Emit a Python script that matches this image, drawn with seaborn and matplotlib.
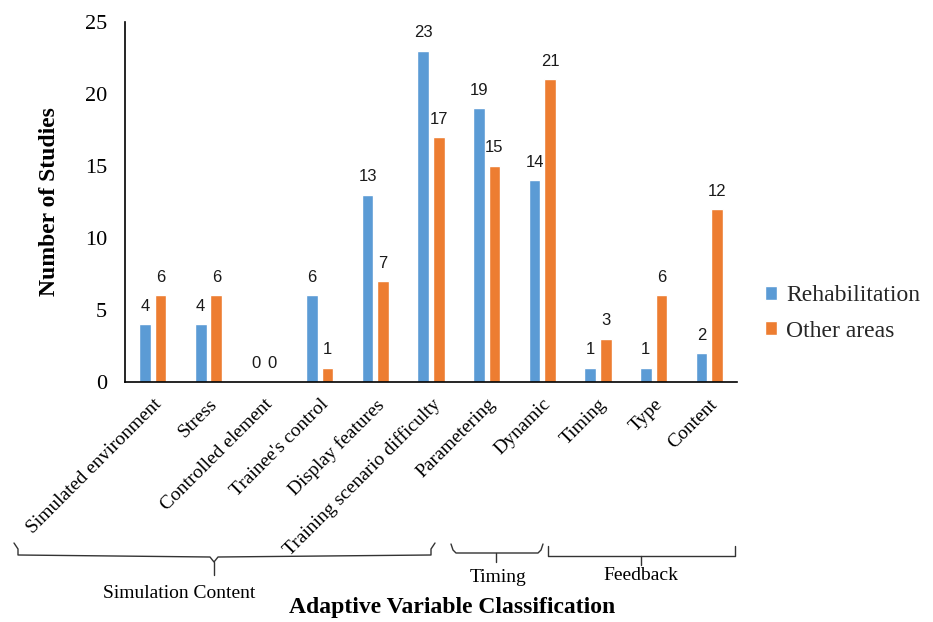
import matplotlib
matplotlib.use("Agg")
import matplotlib.pyplot as plt
from matplotlib.lines import Line2D
import seaborn as sns
import pandas as pd

categories = ["Simulated environment", "Stress", "Controlled element",
              "Trainee's control", "Display features",
              "Training scenario difficulty", "Parametering", "Dynamic",
              "Timing", "Type", "Content"]
rehabilitation = [4, 4, 0, 6, 13, 23, 19, 14, 1, 1, 2]
other_areas = [6, 6, 0, 1, 7, 17, 15, 21, 3, 6, 12]
series_names = ["Rehabilitation", "Other areas"]
y_ticks = [0, 5, 10, 15, 20, 25]

df = pd.DataFrame({
    "variable": categories * 2,
    "studies": rehabilitation + other_areas,
    "area": [series_names[0]] * len(categories) + [series_names[1]] * len(categories),
})

sns.set_theme(style="white")
plt.rcParams["font.family"] = ["Liberation Serif", "DejaVu Serif"]

fig = plt.figure(figsize=(9.33, 6.22), dpi=100)
ax = fig.add_axes([0.134, 0.386, 0.656, 0.579])

sns.barplot(data=df, x="variable", y="studies", hue="area",
            palette=["#5B9BD5", "#ED7D31"], saturation=1, width=0.56, gap=0.25,
            order=categories, hue_order=series_names, ax=ax, legend=True)

for cont in ax.containers:
    ax.bar_label(cont, fmt="%d", padding=7.5, fontsize=12,
                 family="Liberation Sans", color="#1a1a1a")

ax.set_xlim(-0.5, len(categories) - 0.5)
ax.set_ylim(0, 25)
ax.set_yticks(y_ticks)
ax.set_yticklabels([str(t) for t in y_ticks], fontsize=16)
ax.set_xticks(range(len(categories)))
ax.set_xticklabels(categories, rotation=45, ha="right",
                   rotation_mode="anchor", fontsize=14)
ax.tick_params(axis="both", length=0, colors="black")
ax.tick_params(axis="x", pad=10)
ax.tick_params(axis="y", pad=13)

for side in ["top", "right"]:
    ax.spines[side].set_visible(False)
for side in ["left", "bottom"]:
    ax.spines[side].set_color("black")
    ax.spines[side].set_linewidth(1.2)

ax.set_xlabel("")
ax.set_ylabel("Number of Studies", fontsize=17, fontweight="bold",
              labelpad=18, color="black")

handles, labels = ax.get_legend_handles_labels()
ax.legend(handles, labels, loc="center left", bbox_to_anchor=(0.797, 0.496),
          bbox_transform=fig.transFigure, frameon=False, fontsize=17,
          handlelength=0.5, handleheight=0.5, handletextpad=0.4,
          labelspacing=0.6)

# group brackets under the tick labels (figure pixel coordinates)
W, H = 933, 622

def px_line(xs, ys):
    fig.add_artist(Line2D([x / W for x in xs], [1 - y / H for y in ys],
                          color="#333333", lw=1.0, transform=fig.transFigure))

# Simulation Content brace
px_line([14, 18, 18, 210, 214, 218, 431, 431, 435],
        [543, 549, 555, 557, 562, 557, 555, 549, 543])
px_line([214, 214], [562, 575])
# Timing bracket
px_line([451, 453, 456, 538, 541, 543], [544, 550, 553, 553, 550, 544])
px_line([496, 496], [553, 562])
# Feedback bracket
px_line([548, 548, 735, 735], [546, 556, 556, 546])
px_line([641, 641], [556, 565])

fig.text(179 / W, 1 - 593 / H, "Simulation Content", ha="center", va="center",
         fontsize=14, color="black")
fig.text(498 / W, 1 - 577 / H, "Timing", ha="center", va="center",
         fontsize=14, color="black")
fig.text(641 / W, 1 - 575 / H, "Feedback", ha="center", va="center",
         fontsize=14, color="black")
fig.text(452 / W, 1 - 607 / H, "Adaptive Variable Classification", ha="center",
         va="center", fontsize=17, fontweight="bold", color="black")

fig.savefig("out.png", dpi=100)
